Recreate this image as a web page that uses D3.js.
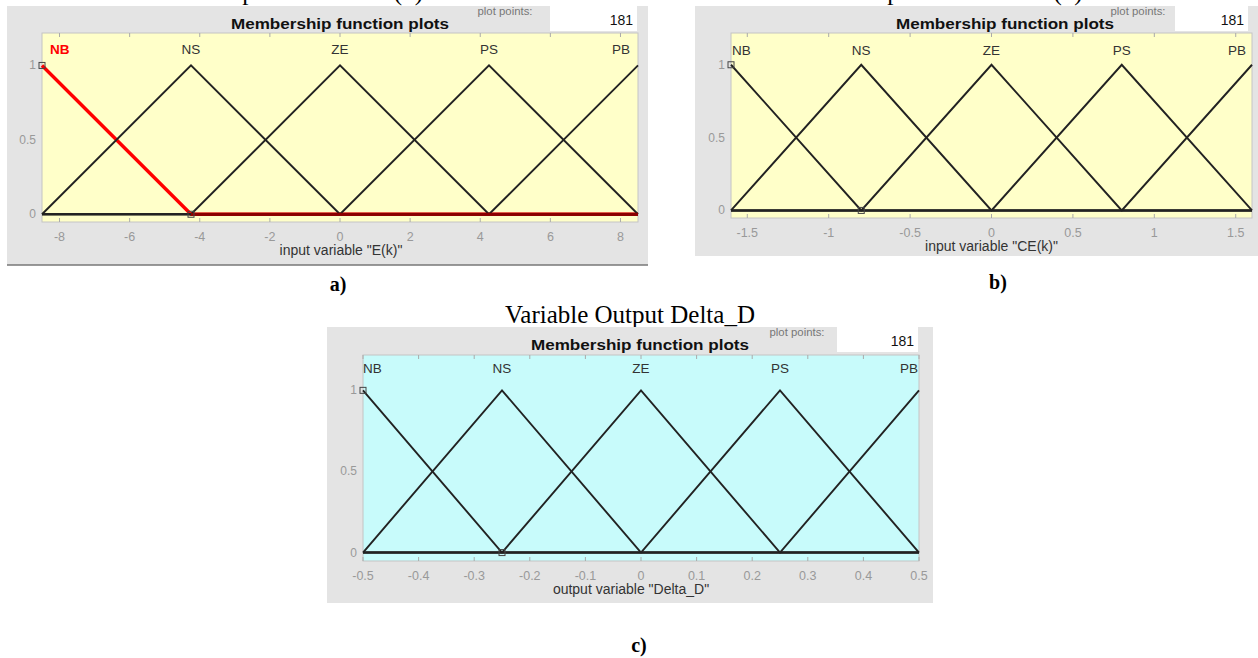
<!DOCTYPE html>
<html><head><meta charset="utf-8">
<script src="https://cdn.jsdelivr.net/npm/d3@7"></script>
<style>body{margin:0;background:#fff}svg{display:block}</style>
</head><body>
<svg id="c" width="1258" height="658"></svg>
<script>
// ---- data ----
const mfNames = ["NB", "NS", "ZE", "PS", "PB"];
const eRange = [-8.5, 8.5];
const eParams = [[-12.75, -8.5, -4.25], [-8.5, -4.25, 0], [-4.25, 0, 4.25], [0, 4.25, 8.5], [4.25, 8.5, 12.75]];
const eTicks = [-8, -6, -4, -2, 0, 2, 4, 6, 8];
const ceRange = [-1.6, 1.6];
const ceParams = [[-2.4, -1.6, -0.8], [-1.6, -0.8, 0], [-0.8, 0, 0.8], [0, 0.8, 1.6], [0.8, 1.6, 2.4]];
const ceTicks = [-1.5, -1, -0.5, 0, 0.5, 1, 1.5];
const dRange = [-0.5, 0.5];
const dParams = [[-0.75, -0.5, -0.25], [-0.5, -0.25, 0], [-0.25, 0, 0.25], [0, 0.25, 0.5], [0.25, 0.5, 0.75]];
const dTicks = [-0.5, -0.4, -0.3, -0.2, -0.1, 0, 0.1, 0.2, 0.3, 0.4, 0.5];
const yTicks = [0, 0.5, 1];
const yDomain = [-0.052, 1.218];
const plotPoints = "181";

const svg = d3.select("#c");
const SANS = "Liberation Sans, Arial, Helvetica, sans-serif";
const SERIF = "Liberation Serif, Times New Roman, serif";

function trimf(x, p) {
  const [a, b, c] = p;
  if (x <= a || x >= c) return (x === b) ? 1 : 0;
  if (x <= b) return b === a ? 1 : (x - a) / (b - a);
  return (c - x) / (c - b);
}

function drawPanel(cfg) {
  const g = svg.append("g");
  g.append("rect").attr("x", cfg.box.x).attr("y", cfg.box.y).attr("width", cfg.box.w).attr("height", cfg.box.h)
    .attr("fill", "#e4e4e4");
  if (cfg.bottomEdge) {
    g.append("line").attr("x1", cfg.box.x).attr("x2", cfg.box.x + cfg.box.w)
      .attr("y1", cfg.box.y + cfg.box.h).attr("y2", cfg.box.y + cfg.box.h)
      .attr("stroke", "#777").attr("stroke-width", 1.5);
  }
  const p = cfg.plot;
  const x = d3.scaleLinear().domain(cfg.range).range([p.x, p.x + p.w]);
  const y = d3.scaleLinear().domain(yDomain).range([p.y + p.h, p.y]);

  // header
  g.append("text").attr("x", cfg.titleX).attr("y", cfg.box.y + 23).attr("text-anchor", "middle")
    .attr("font-family", SANS).attr("font-weight", "bold")
    .attr("font-size", 15).attr("textLength", 218).attr("lengthAdjust", "spacingAndGlyphs")
    .attr("fill", "#111").text("Membership function plots");
  g.append("text").attr("x", cfg.ppX).attr("y", cfg.box.y + 9).attr("text-anchor", "middle")
    .attr("font-family", SANS).attr("font-size", 10).attr("textLength", 55).attr("lengthAdjust", "spacingAndGlyphs")
    .attr("fill", "#777").text("plot points:");
  g.append("rect").attr("x", cfg.ppBox[0]).attr("y", cfg.box.y).attr("width", cfg.ppBox[1] - cfg.ppBox[0])
    .attr("height", 25).attr("fill", "#fff");
  g.append("text").attr("x", cfg.ppBox[1] - 4).attr("y", cfg.box.y + 19).attr("text-anchor", "end")
    .attr("font-family", SANS).attr("font-size", 14)
    .attr("fill", "#111").text(plotPoints);

  // plot area
  g.append("rect").attr("x", p.x).attr("y", p.y).attr("width", p.w).attr("height", p.h)
    .attr("fill", cfg.bg).attr("stroke", "#c4c4c4").attr("stroke-width", 1);

  const tickLen = 4;
  cfg.ticks.forEach(t => {
    g.append("line").attr("x1", x(t)).attr("x2", x(t)).attr("y1", p.y + p.h).attr("y2", p.y + p.h - tickLen)
      .attr("stroke", "#aaa");
    g.append("line").attr("x1", x(t)).attr("x2", x(t)).attr("y1", p.y).attr("y2", p.y + tickLen)
      .attr("stroke", "#aaa");
  });
  g.selectAll(null).data(cfg.ticks).enter().append("text")
    .attr("x", d => x(d)).attr("y", p.y + p.h + 19).attr("text-anchor", "middle")
    .attr("font-family", SANS).attr("font-size", 12.5).attr("fill", "#999")
    .text(d => String(d));
  g.selectAll(null).data(yTicks).enter().append("text")
    .attr("x", p.x - 6).attr("y", d => y(d) + 4).attr("text-anchor", "end")
    .attr("font-family", SANS).attr("font-size", 12).attr("fill", "#999")
    .text(d => String(d));
  g.append("text").attr("x", p.x + p.w / 2 + cfg.xlabelDx).attr("y", p.y + p.h + 33).attr("text-anchor", "middle")
    .attr("font-family", SANS).attr("font-size", 14).attr("fill", "#333")
    .text(cfg.xlabel);

  // membership functions
  const line = d3.line().x(d => x(d[0])).y(d => y(d[1]));
  const ptsFor = prm => {
    const xs = [cfg.range[0], ...prm, cfg.range[1]].filter(v => v >= cfg.range[0] && v <= cfg.range[1]);
    return Array.from(new Set(xs)).sort((a, b) => a - b).map(v => [v, trimf(v, prm)]);
  };
  if (cfg.selRed) {
    g.append("path").attr("d", line(ptsFor(cfg.params[cfg.sel]))).attr("fill", "none")
      .attr("stroke", "#f00").attr("stroke-width", 3.4);
  }
  cfg.params.forEach((prm, i) => {
    if (cfg.selRed && i === cfg.sel) return;
    g.append("path").attr("d", line(ptsFor(prm))).attr("fill", "none")
      .attr("stroke", "#222").attr("stroke-width", 1.9);
  });
  if (cfg.selRed) {
    g.append("line").attr("x1", x(cfg.params[cfg.sel][2])).attr("x2", x(cfg.range[1]))
      .attr("y1", y(0)).attr("y2", y(0)).attr("stroke", "#8a0000").attr("stroke-width", 3);
  }
  const sp = cfg.params[cfg.sel];
  [[Math.max(sp[1], cfg.range[0]), 1], [sp[2], 0]].forEach(d => {
    g.append("rect").attr("x", x(d[0]) - 3).attr("y", y(d[1]) - 3).attr("width", 6).attr("height", 6)
      .attr("fill", "none").attr("stroke", "#444").attr("stroke-width", 1);
  });

  mfNames.forEach((n, i) => {
    const pk = cfg.params[i][1];
    let anchor = "middle", lx = x(pk);
    if (i === 0) { anchor = "start"; lx = p.x + cfg.lblIn[0]; }
    if (i === mfNames.length - 1) { anchor = "end"; lx = p.x + p.w - cfg.lblIn[1]; }
    const red = cfg.selRed && i === cfg.sel;
    g.append("text").attr("x", lx).attr("y", y(1) - cfg.lblUp).attr("text-anchor", anchor)
      .attr("font-family", SANS).attr("font-size", 13.5)
      .attr("font-weight", red ? "bold" : "normal")
      .attr("fill", red ? "#f00" : "#333").text(n);
  });

  if (cfg.caption) {
    g.append("text").attr("x", cfg.caption.x).attr("y", cfg.caption.y).attr("text-anchor", "middle")
      .attr("font-family", SERIF).attr("font-weight", "bold")
      .attr("font-size", 20).attr("fill", "#000").text(cfg.caption.t);
  }
}

// top titles (cut by the page edge, as in the reference)
function topTitle(xStart, y, head, tail, gap) {
  const t = svg.append("text").attr("x", xStart).attr("y", y)
    .attr("font-family", SERIF).attr("font-size", 25).attr("fill", "#000");
  t.append("tspan").text(head);
  t.append("tspan").attr("dx", gap).text(tail);
}
topTitle(132, 0, "Variable Input", " E(k)", 98);
topTitle(777, 0, "Variable Input", " CE(k)", 96);
svg.append("text").attr("x", 630).attr("y", 323).attr("text-anchor", "middle")
  .attr("font-family", SERIF).attr("font-size", 25).text("Variable Output Delta_D");

drawPanel({
  box: {x: 7, y: 6, w: 641, h: 259}, bottomEdge: true,
  plot: {x: 42, y: 33, w: 596, h: 189},
  range: eRange, params: eParams, ticks: eTicks, bg: "#ffffc9",
  xlabel: 'input variable "E(k)"', xlabelDx: 1, sel: 0, selRed: true,
  titleX: 340, ppX: 505, ppBox: [550, 637], lblIn: [8, 8], lblUp: 11,
  caption: {x: 338, y: 291, t: "a)"}
});
drawPanel({
  box: {x: 695, y: 6, w: 563, h: 250},
  plot: {x: 731, y: 33, w: 521, h: 185},
  range: ceRange, params: ceParams, ticks: ceTicks, bg: "#ffffc9",
  xlabel: 'input variable "CE(k)"', xlabelDx: 0, sel: 0, selRed: false,
  titleX: 1005, ppX: 1138, ppBox: [1175, 1248], lblIn: [1, 6], lblUp: 10,
  caption: {x: 998, y: 289, t: "b)"}
});
drawPanel({
  box: {x: 327, y: 327, w: 606, h: 276},
  plot: {x: 363, y: 355, w: 556, h: 206},
  range: dRange, params: dParams, ticks: dTicks, bg: "#c8fbfb",
  xlabel: 'output variable "Delta_D"', xlabelDx: -10, sel: 0, selRed: false,
  titleX: 640, ppX: 797, ppBox: [837, 918], lblIn: [0, 1], lblUp: 17,
  caption: {x: 639, y: 652, t: "c)"}
});
</script>
</body></html>
